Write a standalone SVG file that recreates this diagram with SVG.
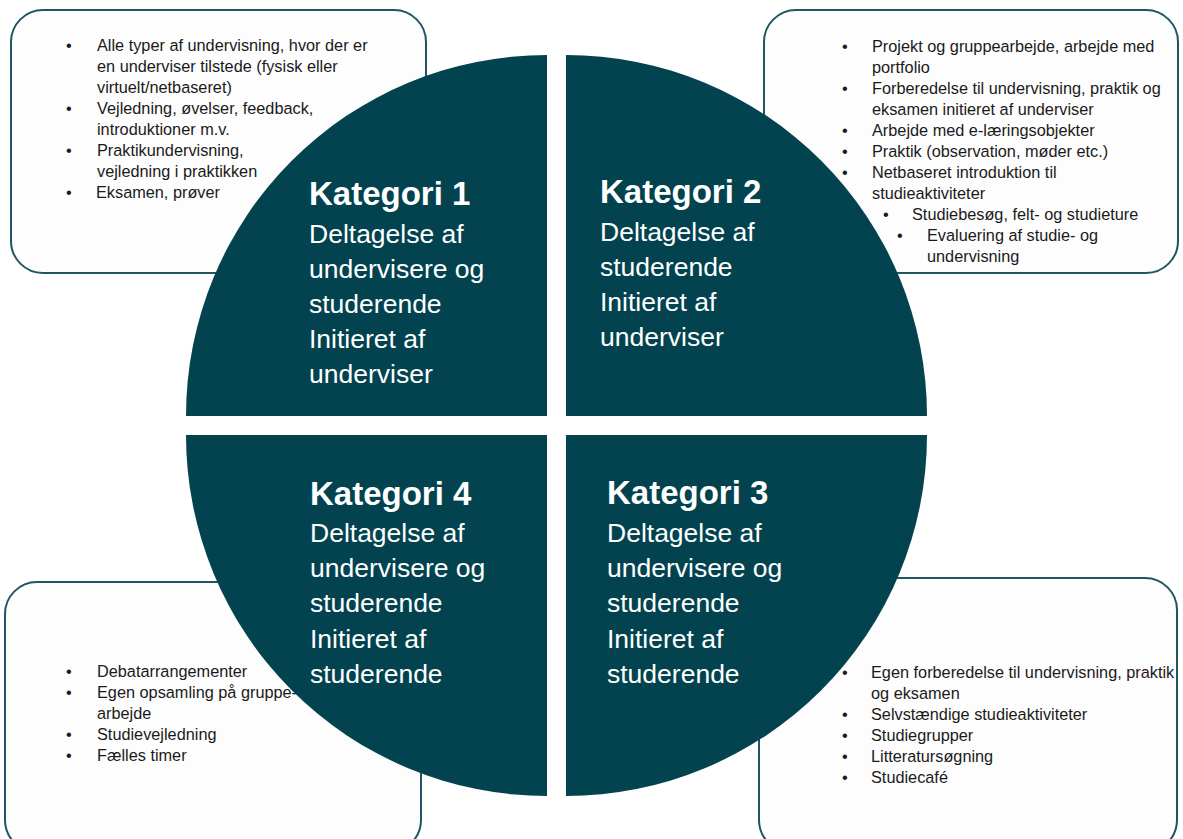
<svg xmlns="http://www.w3.org/2000/svg" width="1183" height="839" viewBox="0 0 1183 839">
<style>
.box{fill:#fdfdfd;stroke:#1f5662;stroke-width:2}
.quad{fill:#02434f}
.bt{font-family:"Liberation Sans",Arial,sans-serif;font-size:16.3px;fill:#1a1a1a}
.kh{font-family:"Liberation Sans",Arial,sans-serif;font-size:33px;font-weight:bold;fill:#ffffff}
.kt{font-family:"Liberation Sans",Arial,sans-serif;font-size:26.5px;fill:#ffffff}
</style>
<rect width="1183" height="839" fill="#ffffff"/>
<g id="box1">
<rect class="box" x="11" y="10" width="415" height="263" rx="32"/>
<text class="bt"><tspan x="66" y="51">•</tspan><tspan x="97" y="51">Alle typer af undervisning, hvor der er</tspan><tspan x="97" y="72">en underviser tilstede (fysisk eller</tspan><tspan x="97" y="93">virtuelt/netbaseret)</tspan><tspan x="66" y="114">•</tspan><tspan x="97" y="114">Vejledning, øvelser, feedback,</tspan><tspan x="97" y="135">introduktioner m.v.</tspan><tspan x="66" y="156">•</tspan><tspan x="97" y="156">Praktikundervisning,</tspan><tspan x="97" y="177">vejledning i praktikken</tspan><tspan x="66" y="198">•</tspan><tspan x="96" y="198">Eksamen, prøver</tspan></text>
</g>
<g id="box2">
<rect class="box" x="764" y="10" width="414" height="263" rx="32"/>
<text class="bt"><tspan x="842" y="52">•</tspan><tspan x="872" y="52">Projekt og gruppearbejde, arbejde med</tspan><tspan x="872" y="73">portfolio</tspan><tspan x="842" y="94">•</tspan><tspan x="872" y="94">Forberedelse til undervisning, praktik og</tspan><tspan x="872" y="115">eksamen initieret af underviser</tspan><tspan x="842" y="136">•</tspan><tspan x="872" y="136">Arbejde med e-læringsobjekter</tspan><tspan x="842" y="157">•</tspan><tspan x="872" y="157">Praktik (observation, møder etc.)</tspan><tspan x="842" y="178">•</tspan><tspan x="872" y="178">Netbaseret introduktion til</tspan><tspan x="872" y="199">studieaktiviteter</tspan><tspan x="883" y="220">•</tspan><tspan x="912" y="220">Studiebesøg, felt- og studieture</tspan><tspan x="897" y="241">•</tspan><tspan x="927" y="241">Evaluering af studie- og</tspan><tspan x="927" y="262">undervisning</tspan></text>
</g>
<g id="box4">
<rect class="box" x="5" y="582" width="416" height="270" rx="32"/>
<text class="bt"><tspan x="66" y="677">•</tspan><tspan x="97" y="677">Debatarrangementer</tspan><tspan x="66" y="698">•</tspan><tspan x="97" y="698">Egen opsamling på gruppe-</tspan><tspan x="97" y="719">arbejde</tspan><tspan x="66" y="740">•</tspan><tspan x="97" y="740">Studievejledning</tspan><tspan x="66" y="761">•</tspan><tspan x="97" y="761">Fælles timer</tspan></text>
</g>
<g id="box3">
<rect class="box" x="759" y="578" width="418" height="274" rx="32"/>
<text class="bt"><tspan x="842" y="678">•</tspan><tspan x="871" y="678">Egen forberedelse til undervisning, praktik</tspan><tspan x="871" y="699">og eksamen</tspan><tspan x="842" y="720">•</tspan><tspan x="871" y="720">Selvstændige studieaktiviteter</tspan><tspan x="842" y="741">•</tspan><tspan x="871" y="741">Studiegrupper</tspan><tspan x="842" y="762">•</tspan><tspan x="871" y="762">Litteratursøgning</tspan><tspan x="842" y="783">•</tspan><tspan x="871" y="783">Studiecafé</tspan></text>
</g>
<g id="kategori1">
<path class="quad" d="M547,416 L186,416 A361,361 0 0 1 547,55 Z"/>
<text class="kh" x="309" y="205">Kategori 1</text>
<text class="kt"><tspan x="309" y="243">Deltagelse af</tspan><tspan x="309" y="278">undervisere og</tspan><tspan x="309" y="313">studerende</tspan><tspan x="309" y="348">Initieret af</tspan><tspan x="309" y="383">underviser</tspan></text>
</g>
<g id="kategori2">
<path class="quad" d="M566,416 L566,55 A361,361 0 0 1 927,416 Z"/>
<text class="kh" x="600" y="203">Kategori 2</text>
<text class="kt"><tspan x="600" y="241">Deltagelse af</tspan><tspan x="600" y="276">studerende</tspan><tspan x="600" y="311">Initieret af</tspan><tspan x="600" y="346">underviser</tspan></text>
</g>
<g id="kategori3">
<path class="quad" d="M566,435 L927,435 A361,361 0 0 1 566,796 Z"/>
<text class="kh" x="607" y="504">Kategori 3</text>
<text class="kt"><tspan x="607" y="542">Deltagelse af</tspan><tspan x="607" y="577">undervisere og</tspan><tspan x="607" y="612">studerende</tspan><tspan x="607" y="648">Initieret af</tspan><tspan x="607" y="683">studerende</tspan></text>
</g>
<g id="kategori4">
<path class="quad" d="M547,435 L547,796 A361,361 0 0 1 186,435 Z"/>
<text class="kh" x="310" y="505">Kategori 4</text>
<text class="kt"><tspan x="310" y="542">Deltagelse af</tspan><tspan x="310" y="577">undervisere og</tspan><tspan x="310" y="612">studerende</tspan><tspan x="310" y="648">Initieret af</tspan><tspan x="310" y="683">studerende</tspan></text>
</g>
<g id="connectors"/>
</svg>
